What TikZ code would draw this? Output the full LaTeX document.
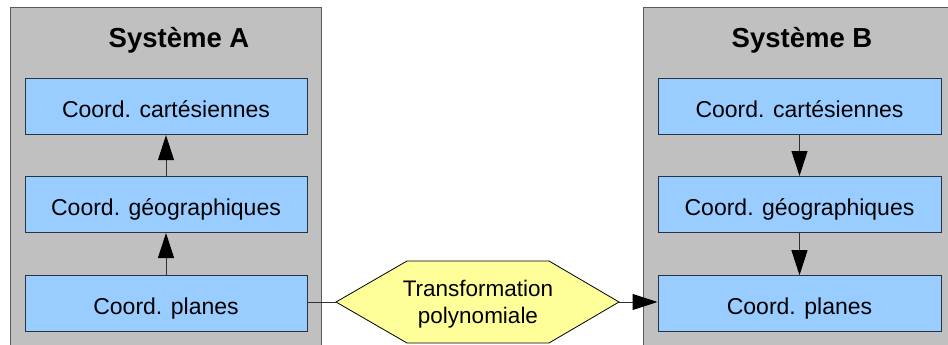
\documentclass[tikz,border=0pt]{standalone}
\usepackage{fontspec}
\setmainfont{Liberation Sans}
\usetikzlibrary{arrows.meta}
\definecolor{panelfill}{HTML}{C0C0C0}
\definecolor{paneldraw}{HTML}{5A5A5A}
\definecolor{boxfill}{HTML}{99CCFF}
\definecolor{boxdraw}{HTML}{263442}
\definecolor{hexfill}{HTML}{FFFF99}
\definecolor{linkcol}{HTML}{303030}
\tikzset{
  panel/.style={fill=panelfill, draw=paneldraw, line width=1pt},
  coordbox/.style={rectangle, fill=boxfill, draw=boxdraw, line width=1pt,
    minimum width=282pt, minimum height=56pt, inner sep=0pt,
    text height=21pt, text depth=0pt,
    font=\fontsize{23}{26}\selectfont},
  paneltitle/.style={anchor=base, font=\fontsize{27.5}{30}\selectfont\bfseries},
  hexshape/.style={fill=hexfill, draw=black, line width=0.8pt},
  link/.style={draw=linkcol, line width=1pt,
    -{Triangle[length=25pt, width=16pt, color=black]}},
  plainlink/.style={draw=linkcol, line width=1pt}
}
\begin{document}
\begin{tikzpicture}[x=1pt, y=-1pt]
  \useasboundingbox (0,0) rectangle (948,345);
  \fill[white] (0,0) rectangle (948,345);

  % the two systems
  \draw[panel] (10,8) rectangle (321,360);
  \draw[panel] (643,8) rectangle (960,360);
  \node[paneltitle] (titleA) at (179,48) {Système A};
  \node[paneltitle] (titleB) at (802,48) {Système B};

  % coordinate kinds, system A
  \node[coordbox] (cA) at (166,106.7) {Coord. cartésiennes};
  \node[coordbox] (gA) at (166,204.5) {Coord. géographiques};
  \node[coordbox] (pA) at (166,303.7) {Coord. planes};

  % coordinate kinds, system B
  \node[coordbox, minimum width=283pt] (cB) at (799.5,106.7) {Coord. cartésiennes};
  \node[coordbox, minimum width=283pt] (gB) at (799.5,204.5) {Coord. géographiques};
  \node[coordbox, minimum width=283pt] (pB) at (799.5,303.7) {Coord. planes};

  % polynomial transformation between the plane coordinates
  \coordinate (hexL) at (336,302);
  \coordinate (hexR) at (619,302);
  \draw[hexshape] (hexL) -- (407,261) -- (549,261) -- (hexR) -- (549,343) -- (407,343) -- cycle;
  \node[align=center, font=\fontsize{22.5}{26.5}\selectfont] (tr) at (478,304)
    {Transformation\\polynomiale};

  % connectors
  \draw[link] (gA.north) -- (cA.south);
  \draw[link] (pA.north) -- (gA.south);
  \draw[link] (cB.south) -- (gB.north);
  \draw[link] (gB.south) -- (pB.north);
  \draw[plainlink] (pA.east |- hexL) -- (hexL);
  \draw[link] (hexR) -- (pB.west |- hexR);
\end{tikzpicture}
\end{document}
